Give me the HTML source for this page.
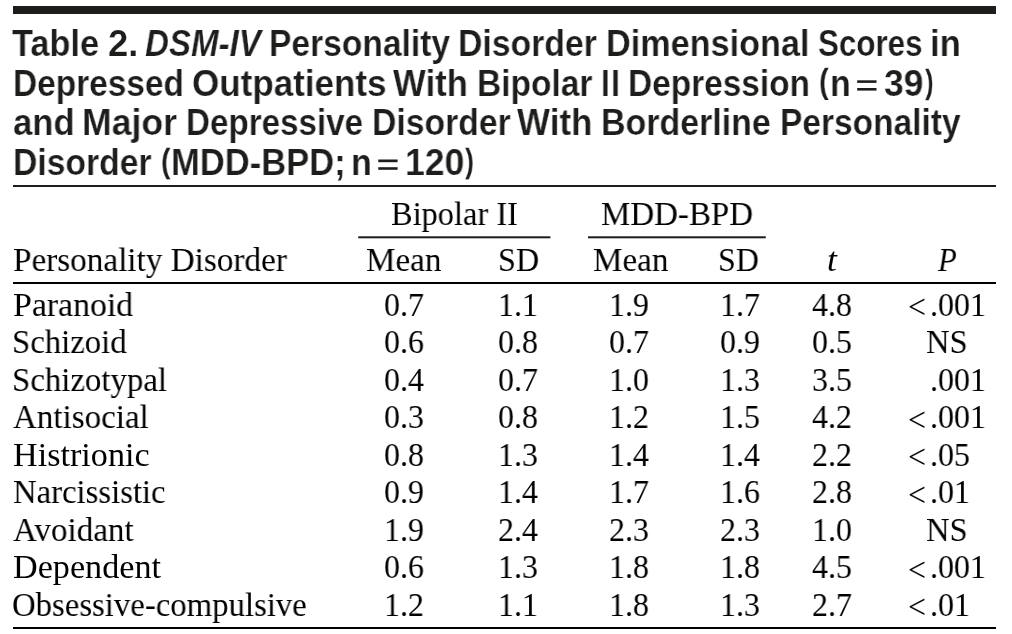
<!DOCTYPE html>
<html><head><meta charset="utf-8"><style>
html,body{margin:0;padding:0;background:#fff;}
body{width:1012px;height:634px;position:relative;overflow:hidden;color:#1d1d1b;}
.r{position:absolute;background:#1d1d1b;}
.x{position:absolute;white-space:nowrap;line-height:1;transform-origin:0 0;will-change:transform;}
.t{font-family:"Liberation Sans",sans-serif;font-weight:bold;font-size:36px;-webkit-text-stroke:0.2px #fff;}
.s{font-family:"Liberation Serif",serif;font-size:34px;color:#000;}
.i{font-style:italic;}
</style></head><body>

<svg width="1012" height="634" viewBox="0 0 1012 634" style="position:absolute;left:0;top:0"><rect x="13" y="6" width="983.00" height="8.00" fill="#1d1d1b"/><rect x="13" y="185" width="983.00" height="2.00" fill="#1d1d1b"/><rect x="358.2" y="236.3" width="192.20" height="2.00" fill="#1d1d1b"/><rect x="588" y="236.3" width="177.80" height="2.00" fill="#1d1d1b"/><rect x="13" y="282" width="983.00" height="2.00" fill="#000"/><rect x="13" y="627" width="983.00" height="2.00" fill="#000"/><rect x="857.2" y="80.3" width="19.30" height="2.60" fill="#1d1d1b"/><rect x="857.2" y="88.0" width="19.30" height="2.60" fill="#1d1d1b"/><rect x="378.25" y="159.5" width="19.35" height="2.70" fill="#1d1d1b"/><rect x="378.25" y="167.2" width="19.35" height="2.60" fill="#1d1d1b"/></svg>
<div class="x t" style="left:12.42px;top:26.00px;transform:scaleX(0.9542)">Table</div>
<div class="x t" style="left:107.73px;top:26.00px;transform:scaleX(1.0133)">2.</div>
<div class="x t i" style="left:144.71px;top:26.00px;transform:scaleX(0.9190)">DSM-IV</div>
<div class="x t" style="left:268.77px;top:26.00px;transform:scaleX(0.9333)">Personality</div>
<div class="x t" style="left:457.96px;top:26.00px;transform:scaleX(0.9379)">Disorder</div>
<div class="x t" style="left:605.82px;top:26.00px;transform:scaleX(0.9507)">Dimensional</div>
<div class="x t" style="left:818.13px;top:26.00px;transform:scaleX(0.8706)">Scores</div>
<div class="x t" style="left:930.49px;top:26.00px;transform:scaleX(0.9651)">in</div>
<div class="x t" style="left:13.08px;top:66.20px;transform:scaleX(0.9289)">Depressed</div>
<div class="x t" style="left:191.74px;top:66.20px;transform:scaleX(0.9726)">Outpatients</div>
<div class="x t" style="left:393.20px;top:66.20px;transform:scaleX(0.9629)">With</div>
<div class="x t" style="left:476.67px;top:66.20px;transform:scaleX(0.9306)">Bipolar</div>
<div class="x t" style="left:600.90px;top:66.20px;transform:scaleX(0.8800)">I</div>
<div class="x t" style="left:610.75px;top:66.20px;transform:scaleX(0.9000)">I</div>
<div class="x t" style="left:628.18px;top:66.20px;transform:scaleX(0.9286)">Depression</div>
<div class="x t" style="left:819.28px;top:65.32px;transform:scale(0.8100,0.9194)">(</div>
<div class="x t" style="left:829.84px;top:66.20px;transform:scaleX(0.9449)">n</div>
<div class="x t" style="left:883.66px;top:66.20px;transform:scaleX(0.9842)">39</div>
<div class="x t" style="left:924.50px;top:65.69px;transform:scale(0.7220,0.9015)">)</div>
<div class="x t" style="left:12.74px;top:104.80px;transform:scaleX(0.9636)">and</div>
<div class="x t" style="left:81.93px;top:104.80px;transform:scaleX(0.9892)">Major</div>
<div class="x t" style="left:185.79px;top:104.80px;transform:scaleX(0.9220)">Depressive</div>
<div class="x t" style="left:371.66px;top:104.80px;transform:scaleX(0.9372)">Disorder</div>
<div class="x t" style="left:517.40px;top:104.80px;transform:scaleX(0.9695)">With</div>
<div class="x t" style="left:601.34px;top:104.80px;transform:scaleX(0.9430)">Borderline</div>
<div class="x t" style="left:779.67px;top:104.80px;transform:scaleX(0.9307)">Personality</div>
<div class="x t" style="left:12.76px;top:144.60px;transform:scaleX(0.9359)">Disorder</div>
<div class="x t" style="left:160.72px;top:144.78px;transform:scale(0.7900,0.9045)">(</div>
<div class="x t" style="left:170.80px;top:144.60px;transform:scaleX(0.9597)">MDD-BPD;</div>
<div class="x t" style="left:350.72px;top:144.60px;transform:scaleX(0.9507)">n</div>
<div class="x t" style="left:404.88px;top:144.60px;transform:scaleX(0.9884)">120</div>
<div class="x t" style="left:465.20px;top:144.78px;transform:scale(0.7415,0.9045)">)</div>
<div class="x s" style="left:390.95px;top:196.50px;transform:scaleX(0.9534)">Bipolar II</div>
<div class="x s" style="left:600.83px;top:196.50px;transform:scaleX(0.9696)">MDD-BPD</div>
<div class="x s" style="left:12.92px;top:243.10px;transform:scaleX(0.9765)">Personality Disorder</div>
<div class="x s" style="left:366.03px;top:243.10px;transform:scaleX(0.9737)">Mean</div>
<div class="x s" style="left:497.68px;top:243.10px;transform:scaleX(0.9434)">SD</div>
<div class="x s" style="left:593.13px;top:243.10px;transform:scaleX(0.9737)">Mean</div>
<div class="x s" style="left:717.89px;top:243.10px;transform:scaleX(0.9384)">SD</div>
<div class="x s i" style="left:826.83px;top:243.10px;transform:scaleX(1.0471)">t</div>
<div class="x s i" style="left:937.93px;top:243.10px;transform:scaleX(0.9037)">P</div>
<div class="x s" style="left:12.91px;top:287.70px;transform:scaleX(0.9941)">Paranoid</div>
<div class="x s" style="left:383.82px;top:287.70px;transform:scaleX(0.9400)">0.7</div>
<div class="x s" style="left:497.82px;top:287.70px;transform:scaleX(0.9400)">1.1</div>
<div class="x s" style="left:609.12px;top:287.70px;transform:scaleX(0.9400)">1.9</div>
<div class="x s" style="left:720.43px;top:287.70px;transform:scaleX(0.9400)">1.7</div>
<div class="x s" style="left:811.83px;top:287.70px;transform:scaleX(0.9400)">4.8</div>
<div class="x s" style="left:908.17px;top:290.28px;transform:scale(0.9333,1.0154)">&lt;</div>
<div class="x s" style="left:930.38px;top:287.70px;transform:scaleX(0.9400)">.001</div>
<div class="x s" style="left:11.73px;top:325.20px;transform:scaleX(0.9634)">Schizoid</div>
<div class="x s" style="left:383.82px;top:325.20px;transform:scaleX(0.9400)">0.6</div>
<div class="x s" style="left:497.82px;top:325.20px;transform:scaleX(0.9400)">0.8</div>
<div class="x s" style="left:609.12px;top:325.20px;transform:scaleX(0.9400)">0.7</div>
<div class="x s" style="left:720.43px;top:325.20px;transform:scaleX(0.9400)">0.9</div>
<div class="x s" style="left:811.83px;top:325.20px;transform:scaleX(0.9400)">0.5</div>
<div class="x s" style="left:926.24px;top:325.20px;transform:scaleX(0.9590)">NS</div>
<div class="x s" style="left:11.73px;top:362.70px;transform:scaleX(0.9657)">Schizotypal</div>
<div class="x s" style="left:383.82px;top:362.70px;transform:scaleX(0.9400)">0.4</div>
<div class="x s" style="left:497.82px;top:362.70px;transform:scaleX(0.9400)">0.7</div>
<div class="x s" style="left:609.12px;top:362.70px;transform:scaleX(0.9400)">1.0</div>
<div class="x s" style="left:720.43px;top:362.70px;transform:scaleX(0.9400)">1.3</div>
<div class="x s" style="left:811.83px;top:362.70px;transform:scaleX(0.9400)">3.5</div>
<div class="x s" style="left:930.38px;top:362.70px;transform:scaleX(0.9400)">.001</div>
<div class="x s" style="left:12.96px;top:400.20px;transform:scaleX(0.9715)">Antisocial</div>
<div class="x s" style="left:383.82px;top:400.20px;transform:scaleX(0.9400)">0.3</div>
<div class="x s" style="left:497.82px;top:400.20px;transform:scaleX(0.9400)">0.8</div>
<div class="x s" style="left:609.12px;top:400.20px;transform:scaleX(0.9400)">1.2</div>
<div class="x s" style="left:720.43px;top:400.20px;transform:scaleX(0.9400)">1.5</div>
<div class="x s" style="left:811.83px;top:400.20px;transform:scaleX(0.9400)">4.2</div>
<div class="x s" style="left:908.17px;top:402.78px;transform:scale(0.9333,1.0154)">&lt;</div>
<div class="x s" style="left:930.38px;top:400.20px;transform:scaleX(0.9400)">.001</div>
<div class="x s" style="left:12.89px;top:437.70px;transform:scaleX(1.0052)">Histrionic</div>
<div class="x s" style="left:383.82px;top:437.70px;transform:scaleX(0.9400)">0.8</div>
<div class="x s" style="left:497.82px;top:437.70px;transform:scaleX(0.9400)">1.3</div>
<div class="x s" style="left:609.12px;top:437.70px;transform:scaleX(0.9400)">1.4</div>
<div class="x s" style="left:720.43px;top:437.70px;transform:scaleX(0.9400)">1.4</div>
<div class="x s" style="left:811.83px;top:437.70px;transform:scaleX(0.9400)">2.2</div>
<div class="x s" style="left:908.17px;top:440.28px;transform:scale(0.9333,1.0154)">&lt;</div>
<div class="x s" style="left:930.38px;top:437.70px;transform:scaleX(0.9400)">.05</div>
<div class="x s" style="left:12.94px;top:475.20px;transform:scaleX(0.9617)">Narcissistic</div>
<div class="x s" style="left:383.82px;top:475.20px;transform:scaleX(0.9400)">0.9</div>
<div class="x s" style="left:497.82px;top:475.20px;transform:scaleX(0.9400)">1.4</div>
<div class="x s" style="left:609.12px;top:475.20px;transform:scaleX(0.9400)">1.7</div>
<div class="x s" style="left:720.43px;top:475.20px;transform:scaleX(0.9400)">1.6</div>
<div class="x s" style="left:811.83px;top:475.20px;transform:scaleX(0.9400)">2.8</div>
<div class="x s" style="left:908.17px;top:477.78px;transform:scale(0.9333,1.0154)">&lt;</div>
<div class="x s" style="left:930.38px;top:475.20px;transform:scaleX(0.9400)">.01</div>
<div class="x s" style="left:12.96px;top:512.70px;transform:scaleX(0.9733)">Avoidant</div>
<div class="x s" style="left:383.82px;top:512.70px;transform:scaleX(0.9400)">1.9</div>
<div class="x s" style="left:497.82px;top:512.70px;transform:scaleX(0.9400)">2.4</div>
<div class="x s" style="left:609.12px;top:512.70px;transform:scaleX(0.9400)">2.3</div>
<div class="x s" style="left:720.43px;top:512.70px;transform:scaleX(0.9400)">2.3</div>
<div class="x s" style="left:811.83px;top:512.70px;transform:scaleX(0.9400)">1.0</div>
<div class="x s" style="left:926.24px;top:512.70px;transform:scaleX(0.9590)">NS</div>
<div class="x s" style="left:12.90px;top:550.20px;transform:scaleX(1.0048)">Dependent</div>
<div class="x s" style="left:383.82px;top:550.20px;transform:scaleX(0.9400)">0.6</div>
<div class="x s" style="left:497.82px;top:550.20px;transform:scaleX(0.9400)">1.3</div>
<div class="x s" style="left:609.12px;top:550.20px;transform:scaleX(0.9400)">1.8</div>
<div class="x s" style="left:720.43px;top:550.20px;transform:scaleX(0.9400)">1.8</div>
<div class="x s" style="left:811.83px;top:550.20px;transform:scaleX(0.9400)">4.5</div>
<div class="x s" style="left:908.17px;top:552.78px;transform:scale(0.9333,1.0154)">&lt;</div>
<div class="x s" style="left:930.38px;top:550.20px;transform:scaleX(0.9400)">.001</div>
<div class="x s" style="left:12.45px;top:587.70px;transform:scaleX(0.9636)">Obsessive-compulsive</div>
<div class="x s" style="left:383.82px;top:587.70px;transform:scaleX(0.9400)">1.2</div>
<div class="x s" style="left:497.82px;top:587.70px;transform:scaleX(0.9400)">1.1</div>
<div class="x s" style="left:609.12px;top:587.70px;transform:scaleX(0.9400)">1.8</div>
<div class="x s" style="left:720.43px;top:587.70px;transform:scaleX(0.9400)">1.3</div>
<div class="x s" style="left:811.83px;top:587.70px;transform:scaleX(0.9400)">2.7</div>
<div class="x s" style="left:908.17px;top:590.28px;transform:scale(0.9333,1.0154)">&lt;</div>
<div class="x s" style="left:930.38px;top:587.70px;transform:scaleX(0.9400)">.01</div>
</body></html>
